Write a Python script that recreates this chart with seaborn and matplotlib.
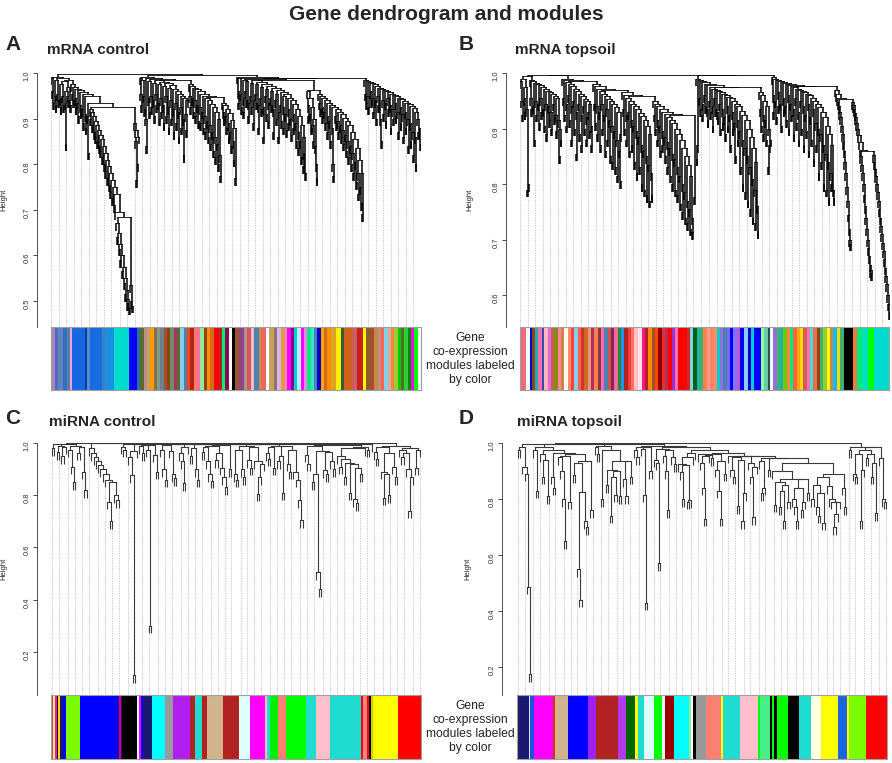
import numpy as np
import seaborn as sns
import matplotlib.pyplot as plt
from matplotlib.collections import LineCollection
from matplotlib.colors import ListedColormap

# ---- merge heights between neighbouring leaves (x1000) ----
mrna_control_gaps = [
    # left block
    990, 960, 935, 992, 950, 930, 985, 955, 940, 988, 945, 925, 975, 950, 930, 982,
    935, 845, 960, 950, 940, 970, 930, 985,
    # long chain going down to 0.48
    975, 955, 940, 970, 945, 925, 966, 935, 905, 962, 930, 915, 958, 920, 890, 954,
    910, 880, 950, 905, 825, 935,
    920, 900, 915, 885, 905, 870, 895, 860, 885, 850, 875, 840, 865, 830, 855, 815,
    840, 800, 825, 785, 810, 770, 795, 755, 780, 740, 765, 725, 750, 710, 735, 695,
    670, 640, 650, 615, 625, 590, 600, 565, 575, 540, 550, 515, 525, 495, 505, 485,
    685, 535, 500, 490, 926, 890, 875, 850, 765, 800, 860, 997,
    # second block
    990, 955, 930, 985, 950, 920, 992, 900, 840, 988, 945, 915, 982, 950, 925, 986,
    940, 905, 978, 955, 930, 984, 935, 900, 975, 945, 915, 980, 930, 890, 972, 950,
    905, 977, 925, 880, 968, 940, 900, 973, 920, 870, 965, 935, 890, 960, 915, 860,
    955, 925, 880, 950, 900, 820, 945, 910, 875, 940, 985,
    975, 950, 925, 972, 945, 915, 968, 940, 905, 965, 930, 895, 960, 925, 890, 955,
    915, 880, 950, 905, 870, 945, 895, 860, 940, 885, 845, 932, 870, 830, 925, 860,
    815, 915, 845, 800, 900, 820, 775, 947,
    935, 915, 900, 930, 905, 880, 922, 890, 860, 912, 870, 840, 898, 850, 810, 880,
    770, 996,
    # third block
    992, 960, 935, 988, 955, 925, 990, 945, 915, 985, 960, 940, 982, 935, 905, 987,
    950, 925, 978, 940, 890, 984, 955, 935, 975, 930, 880, 980, 945, 920, 970, 925,
    860, 976, 950, 910, 965, 935, 895, 972, 945, 930, 960, 920, 870, 968, 940, 900,
    955, 915, 860, 962, 930, 895, 958, 925, 880, 950, 910, 875, 954, 920, 890, 946,
    900, 865, 940, 910, 880, 932, 890, 850, 920, 870, 835, 905, 850, 815, 885, 825,
    795, 860, 780, 985,
    960, 930, 905, 945, 910, 880, 925, 885, 850, 900, 840, 800, 770, 963,
    955, 935, 920, 950, 925, 905, 945, 915, 890, 940, 905, 870, 935, 895, 850, 930,
    880, 800, 775, 925, 905, 890, 920, 895, 870, 915, 885, 860, 910, 875, 845, 902,
    865, 830, 895, 850, 815, 885, 840, 800, 870, 825, 780, 855, 805, 760, 835, 780,
    735, 810, 750, 715, 780, 690, 989,
    # right block
    985, 955, 935, 982, 950, 925, 980, 960, 940, 978, 945, 915, 975, 940, 900, 972,
    950, 930, 968, 900, 850, 965, 940, 910, 962, 935, 895, 960, 945, 920, 958, 930,
    880, 955, 920, 900, 952, 935, 905, 950, 915, 870, 946, 925, 890, 942, 910, 860,
    938, 915, 880, 935, 900, 840, 932, 890, 850, 928, 870, 820, 924, 860, 800, 915,
    900, 870, 880, 845,
]
mrna_topsoil_gaps = [
    985, 950, 925, 990, 955, 930, 975, 935, 790, 800, 995,
    988, 955, 935, 985, 940, 880, 982, 950, 925, 980, 945, 910, 978, 955, 930, 975,
    935, 905, 972, 945, 890, 968, 940, 915, 965, 930, 900, 962, 945, 920, 958, 925,
    895, 955, 915, 850, 900, 880, 996,
    990, 955, 925, 987, 945, 905, 984, 960, 915, 980, 940, 880, 976, 950, 900, 972,
    930, 855, 968, 945, 890, 962, 925, 870, 958, 940, 900, 954, 920, 880, 950, 930,
    895, 945, 905, 870, 985,
    980, 945, 910, 976, 940, 890, 972, 930, 870, 968, 945, 900, 962, 925, 860, 958,
    935, 880, 954, 915, 850, 950, 905, 840, 945, 895, 830, 938, 880, 815, 930, 860,
    805, 890, 970,
    965, 935, 900, 960, 925, 880, 955, 930, 860, 950, 915, 870, 945, 905, 840, 940,
    895, 820, 935, 885, 830, 928, 870, 800, 922, 860, 790, 915, 850, 780, 905, 835,
    770, 890, 820, 780, 958,
    950, 925, 900, 945, 915, 880, 940, 905, 860, 935, 895, 870, 930, 885, 850, 927,
    875, 830, 920, 865, 815, 915, 855, 800, 910, 845, 790, 900, 830, 780, 890, 815,
    765, 880, 800, 750, 865, 785, 740, 850, 770, 730, 835, 755, 720, 815, 740, 714,
    925, 777, 997,
    990, 846, 870, 988, 955, 935, 985, 945, 925, 983, 960, 940, 980, 935, 915, 978,
    950, 930, 975, 940, 905, 972, 955, 935, 970, 930, 920, 968, 945, 900, 965, 935,
    910, 962, 920, 890, 960, 940, 905, 957, 925, 870, 955, 930, 900, 950, 910, 850,
    945, 915, 880, 940, 895, 830, 932, 880, 800, 925, 865, 785, 915, 850, 770, 900,
    830, 755, 885, 810, 740, 865, 790, 730, 840, 760, 715, 975,
    965, 935, 905, 960, 925, 890, 950, 915, 880, 940, 900, 830, 870, 880, 996,
    993, 960, 930, 990, 950, 920, 988, 965, 940, 986, 945, 905, 984, 955, 935, 982,
    940, 915, 980, 960, 900, 978, 945, 925, 976, 935, 890, 974, 955, 910, 972, 930,
    880, 970, 950, 900, 968, 940, 870, 965, 925, 895, 962, 945, 860, 960, 920, 880,
    955, 935, 845, 950, 910, 870, 945, 900, 820, 938, 890, 840, 930, 870, 800, 920,
    855, 790, 905, 840, 775, 890, 820, 800, 870, 790, 775, 976,
    # three sparse chains on the right
    970, 962, 955, 948, 940, 930, 920, 905, 890, 875, 860, 840, 820, 795, 770, 745,
    720, 700, 693, 953,
    948, 942, 935, 928, 920, 910, 900, 888, 875, 862, 850, 835, 820, 800, 780, 760,
    740, 720, 700, 685, 670, 655, 645, 640, 860,
    852, 840, 828, 815, 800, 785, 770, 755, 740, 725, 710, 695, 680, 665, 650, 635,
    620, 600, 585, 570,
]
mirna_control_gaps = [
    980, 996, 965, 990, 950, 985, 998,
    975, 910, 850, 988, 962, 985, 890, 820, 999,
    980, 960, 945, 930, 915, 900, 880, 860, 775, 700, 850, 800, 780, 999,
    985, 975, 997,
    946, 876, 110, 970, 996,
    988, 960, 992, 975, 300, 993, 955, 890, 998,
    975, 900, 860, 992, 970, 880, 865, 995, 960, 930, 845, 985, 997,
    950, 980, 900, 860, 995, 965, 985, 930, 880, 855, 990, 935, 960, 905, 870, 830,
    993, 900, 996,
    880, 860, 975, 900, 870, 990, 935, 905, 985, 930, 805, 870, 920, 995,
    960, 940, 985, 905, 990, 930, 950, 810, 990, 920, 890, 975, 890, 860, 780, 705, 997,
    955, 920, 990, 850, 880, 505, 440, 970, 895, 880, 965, 930, 900, 992,
    950, 910, 940, 870, 925, 810, 920, 785, 770, 905, 880, 980,
    985, 975, 995, 999,
    965, 940, 985, 890, 790, 880, 800, 960, 910, 870, 990,
    975, 945, 960, 900, 740, 870, 980, 905, 975,
]
mirna_topsoil_gaps = [
    975, 985, 915, 890, 487, 175, 997,
    975, 830, 985, 960, 880, 940, 810, 975, 880, 840, 965, 950, 900, 800, 650, 955,
    790, 960, 885, 930, 550, 440, 825, 720, 700, 935, 760, 996,
    985, 960, 990, 800, 975, 850, 905, 740, 880, 815, 900, 810, 935, 870, 810, 935,
    880, 995,
    975, 950, 985, 980, 815, 430, 985, 900, 990,
    940, 930, 570, 980, 955, 900, 760, 975, 950, 925, 985,
    925, 895, 800, 920, 790, 795, 950, 965, 975,
    960, 930, 840, 730, 955, 958, 945, 962, 905, 830, 730, 935, 890, 965,
    955, 905, 880, 950, 775, 940, 720, 820, 952, 930, 880, 735, 915, 955,
    935, 820, 840, 945, 905, 945,
    900, 780, 860, 770, 830, 720, 850, 790, 870, 800, 770, 720, 840, 760, 790, 870,
    820, 930, 800, 850, 770, 740, 820, 715, 880, 845, 800, 790, 700, 745, 790, 890,
    840, 770, 999,
    975, 985, 890, 880, 960, 720, 905, 975, 945, 960, 880, 930, 750, 985, 945, 800, 790,
]

# ---- module colour strips (colour, relative width) ----
mrna_control_colors = [
    '#9a8fb0', '#6a5acd', '#3a9aaa', '#8470d0', '#2f6fbf', '#5b7fa0', '#f0a0e0', '#1a66e0',
    '#0d3da0', '#4a90d0', '#1a6ae0', '#3a80c8', '#1a90e0', '#00ddcf', '#0000ff', '#3a6a9a',
    '#556b2f', '#bc8f8f', '#c8a060', '#ff9900', '#8b6a5a', '#7aa080', '#708090', '#a0522d',
    '#8b4513', '#6b8e6b', '#b03060', '#556b2f', '#87ceeb', '#4682b4', '#ff4500', '#b22222',
    '#ff7f50', '#ff69b4', '#90ee90', '#8b4513', '#ff8c00', '#d2691e', '#ff0000', '#b22222',
    '#00ee76', '#8b0a50', '#ffffff', '#000000', '#a0522d', '#8b4789', '#bc8f8f', '#cd5c5c',
    '#ffb6c1', '#4682b4', '#cd853f', '#ee6363', '#ffffff', '#c8a060', '#8b795e', '#e0b0ff',
    '#daa520', '#ff82ab', '#ff00ff', '#8b008b', '#00ced1', '#bfefff', '#ff00ff', '#ee82ee',
    '#00ee76', '#40e0d0', '#4682b4', '#0000cd', '#ffa500', '#d2691e', '#ff8c00', '#daa520',
    '#ffee00', '#2e5e2e', '#d2601e', '#cd5c5c', '#c81e1e', '#ffff00', '#8b5a2b', '#a0522d',
    '#cd853f', '#bc8f8f', '#ff6347', '#87ceeb', '#d2b48c', '#ff7f50', '#9acd32', '#00cd00',
    '#556b2f', '#32cd32', '#008b00', '#ff00ff', '#00ff00', '#f0fff0',
]
mrna_control_widths = [
    12, 10, 7, 8, 10, 10, 7, 38, 5, 10, 35, 10, 27, 43, 25, 10,
    10, 10, 10, 10, 10, 10, 10, 10, 10, 10, 10, 10, 10, 10, 10, 10,
    10, 10, 10, 10, 10, 10, 15, 10, 10, 10, 10, 10, 10, 15, 10, 10,
    10, 15, 10, 10, 10, 15, 10, 10, 10, 10, 10, 10, 10, 10, 10, 10,
    10, 10, 10, 10, 10, 10, 10, 15, 15, 10, 25, 15, 15, 10, 10, 15,
    10, 10, 10, 10, 10, 10, 10, 10, 10, 10, 10, 10, 10, 10,
]
mrna_topsoil_colors = [
    '#d87090', '#ff6a6a', '#f0f8ff', '#0000cd', '#8b4513', '#20b2aa', '#ff69b4', '#2f4f9f',
    '#ffb6c1', '#da70d6', '#cd5c5c', '#8b8b00', '#ff82ab', '#cd853f', '#fffaf0', '#ff8c69',
    '#ff4040', '#87ceeb', '#ff6347', '#cd3333', '#d2691e', '#e9967a', '#b03060', '#ff7f50',
    '#8b3a3a', '#ff69b4', '#4682b4', '#cd5555', '#8b2252', '#ee6aa7', '#228b22', '#1e90ff',
    '#b22222', '#ee3b3b', '#ff7256', '#ffc0cb', '#ffe4e1', '#ff1493', '#b22222', '#ff8c00',
    '#a0522d', '#ff4500', '#8b0000', '#ee2c2c', '#b03060', '#ff0000', '#9932cc', '#ff6eb4',
    '#ff0000', '#cd2626', '#87ceeb', '#006400', '#20b2aa', '#3cb371', '#ff7f50', '#ffa07a',
    '#fa8072', '#ff8c69', '#00ced1', '#9370db', '#4682b4', '#7b68ee', '#0000ff', '#8470ff',
    '#ba55d3', '#0000ee', '#87cefa', '#0000cd', '#00ced1', '#0000ff', '#98fb98', '#66cdaa',
    '#2f4f4f', '#f0fff0', '#9370db', '#3cb371', '#20b2aa', '#66cd00', '#ff7f50', '#00ee76',
    '#ff6347', '#ffa500', '#ffd700', '#cd5c5c', '#ff6eb4', '#40e0d0', '#ee6a50', '#8b4513',
    '#3cb371', '#9acd32', '#ffff00', '#cd853f', '#00bfff', '#ffd700', '#3cb371', '#000000',
    '#ee7942', '#00ee76', '#00e0c0', '#00ff00', '#00ddd0',
]
mrna_topsoil_widths = [
    10, 7, 13, 5, 10, 10, 10, 8, 10, 10, 10, 10, 10, 10, 10, 10,
    10, 10, 10, 10, 10, 10, 10, 10, 10, 10, 10, 10, 10, 10, 10, 10,
    10, 10, 10, 10, 12, 10, 10, 10, 10, 10, 10, 10, 10, 10, 10, 10,
    25, 10, 10, 10, 10, 10, 10, 10, 10, 10, 10, 10, 10, 10, 10, 10,
    10, 13, 10, 10, 10, 20, 10, 10, 7, 10, 10, 10, 10, 10, 10, 10,
    10, 10, 10, 10, 10, 10, 10, 10, 10, 10, 10, 10, 10, 10, 13, 27,
    10, 15, 18, 20, 44,
]
mirna_control_colors = [
    '#b23aee', '#ffff00', '#ff00ff', '#000000', '#ffd700', '#191970', '#0000ff', '#7cfc00',
    '#0000ff', '#ff0000', '#0000ff', '#000000', '#e0ffff', '#ff00ff', '#0000ff', '#191970',
    '#00ffff', '#999999', '#b01ef0', '#b22222', '#1fdcd0', '#b22222', '#d2b48c', '#b22222',
    '#e0ffff', '#ff00ff', '#ffb6c1', '#1fdcd0', '#00ee00', '#fa8072', '#00ff00', '#1fdcd0',
    '#ffc0cb', '#1fdcd0', '#ff0000', '#ff8080', '#ff0000', '#000000', '#cdcd00', '#ffff00',
    '#ff0000',
]
mirna_control_widths = [
    5, 7, 5, 5, 6, 7, 10, 42, 118, 5, 5, 45, 5, 5, 8, 27,
    37, 26, 50, 14, 23, 15, 48, 47, 33, 47, 5, 10, 22, 26, 60, 30,
    40, 95, 7, 10, 8, 5, 5, 77, 68,
]
mirna_topsoil_colors = [
    '#191970', '#e0e0ff', '#1e50e0', '#ff00ff', '#cd3700', '#d2b48c', '#0000ff', '#a020f0',
    '#b22222', '#b23aee', '#006400', '#ffff00', '#1fdcd0', '#e0ffff', '#00ff00', '#f0f0f0',
    '#990000', '#00ffff', '#90ee90', '#ffffff', '#000000', '#999999', '#fa8072', '#ffff00',
    '#1fdcd0', '#ffc0cb', '#00ff00', '#44ee88', '#000000', '#00ff00', '#000000', '#00ff00',
    '#000000', '#1fdcd0', '#ffffe0', '#ffff00', '#1e64e0', '#ffff00', '#7cfc00', '#ff0000',
]
mirna_topsoil_widths = [
    35, 5, 12, 56, 7, 37, 60, 26, 64, 26, 27, 7, 20, 30, 23, 10,
    27, 43, 7, 6, 10, 30, 44, 6, 50, 54, 6, 32, 6, 6, 8, 32,
    33, 37, 30, 50, 28, 6, 52, 62,
]

W, H = 892, 763

sns.set_theme(style="white")
plt.rcParams['font.family'] = ['Liberation Sans', 'DejaVu Sans']


def rect(x0, y0, x1, y1):
    return [x0 / W, 1 - y1 / H, (x1 - x0) / W, (y1 - y0) / H]


def dendro(gaps, hang):
    g = np.asarray(gaps) / 1000
    n = len(g) + 1
    vsegs, hsegs = [], []
    bottoms = np.zeros(n)

    def build(lo, hi):
        if lo == hi:
            return lo + 1.0, None
        k = lo + int(np.argmax(g[lo:hi]))
        h = g[k]
        xl, hl = build(lo, k)
        xr, hr = build(k + 1, hi)
        for x, hc, idx in ((xl, hl, lo), (xr, hr, k + 1)):
            if hc is None:
                hc = h - hang
                bottoms[idx] = hc
            vsegs.append([(x, h), (x, hc)])
        hsegs.append([(xl, h), (xr, h)])
        return (xl + xr) / 2, h

    build(0, n - 1)
    return vsegs, hsegs, bottoms, n


def color_bar(ax, colors, widths):
    uniq = list(dict.fromkeys(colors))
    codes = np.repeat([uniq.index(c) for c in colors], widths)[None, :]
    sns.heatmap(codes, ax=ax, cmap=ListedColormap(uniq), vmin=-0.5,
                vmax=len(uniq) - 0.5, cbar=False, xticklabels=False,
                yticklabels=False)
    for s in ax.spines.values():
        s.set_visible(True)
        s.set_color('#a0a0a0')
        s.set_linewidth(0.8)


panels = [
    dict(letter='A', title='mRNA control', gaps=mrna_control_gaps, ylim=(0.443, 1.0),
         ticks=np.arange(0.5, 1.01, 0.1), box=(51, 73, 421, 327), bar=(51, 327, 421, 390),
         colors=mrna_control_colors, widths=mrna_control_widths, lc='black',
         vlw=1.1, hlw=0.6, hang=0.03, off=10.1, ylab_x=7, letter_xy=(5, 44),
         title_xy=(47, 50)),
    dict(letter='B', title='mRNA topsoil', gaps=mrna_topsoil_gaps, ylim=(0.543, 1.0),
         ticks=np.arange(0.6, 1.01, 0.1), box=(520, 73, 890, 327), bar=(520, 327, 889, 390),
         colors=mrna_topsoil_colors, widths=mrna_topsoil_widths, lc='black',
         vlw=1.1, hlw=0.6, hang=0.03, off=10.1, ylab_x=473, letter_xy=(459, 44),
         title_xy=(515, 50)),
    dict(letter='C', title='miRNA control', gaps=mirna_control_gaps, ylim=(0.035, 1.0),
         ticks=np.arange(0.2, 1.01, 0.2), box=(51, 443, 421, 695), bar=(51, 695, 421, 759),
         colors=mirna_control_colors, widths=mirna_control_widths, lc='#3a3a3a',
         vlw=0.8, hlw=0.8, hang=0.03, off=10.1, ylab_x=7, letter_xy=(5, 418),
         title_xy=(49, 422)),
    dict(letter='D', title='miRNA topsoil', gaps=mirna_topsoil_gaps, ylim=(0.10, 1.0),
         ticks=np.arange(0.2, 1.01, 0.2), box=(517, 443, 887, 695), bar=(517, 695, 887, 759),
         colors=mirna_topsoil_colors, widths=mirna_topsoil_widths, lc='#3a3a3a',
         vlw=0.8, hlw=0.8, hang=0.03, off=10.8, ylab_x=471, letter_xy=(459, 418),
         title_xy=(517, 422)),
]

fig = plt.figure(figsize=(W / 100, H / 100), dpi=100)

for p in panels:
    x0, y0, x1, y1 = p['box']
    ax = fig.add_axes(rect(x0, y0, x1, y1))
    lo, hi = p['ylim']
    hang = p['hang'] * (hi - lo)
    vsegs, hsegs, bottoms, n = dendro(p['gaps'], hang)

    # guide lines down to the colour strip
    idx = np.round(np.linspace(0, n - 1, 50)).astype(int)
    ax.vlines(idx + 1, lo, bottoms[idx], colors='#bdbdbd', linestyles=(0, (1, 1)),
              linewidth=0.6, zorder=1)
    ax.add_collection(LineCollection(vsegs, colors=p['lc'], linewidths=p['vlw'],
                                     zorder=2, capstyle='butt'))
    ax.add_collection(LineCollection(hsegs, colors=p['lc'], linewidths=p['hlw'],
                                     zorder=2, capstyle='projecting'))
    ax.set_xlim(0.5, n + 0.5)
    ax.set_ylim(lo, hi)
    ax.set_xticks([])
    ax.set_yticks(p['ticks'])
    ax.set_yticklabels([f'{t:.1f}' for t in p['ticks']])
    ax.tick_params(axis='y', labelsize=5.5, length=3, width=0.6, pad=1.5,
                   labelrotation=90, left=True, colors='#333333')
    for lab in ax.get_yticklabels():
        lab.set_va('center')
    sns.despine(ax=ax, bottom=True, offset={'left': p['off']})
    ax.spines['left'].set_linewidth(0.6)
    ax.spines['left'].set_color('#333333')
    ax.set_facecolor('none')
    ax.set_ylabel('Height', fontsize=5.5)
    ax.yaxis.set_label_coords((p['ylab_x'] - x0) / (x1 - x0), 0.5)

    bx0, by0, bx1, by1 = p['bar']
    bax = fig.add_axes(rect(bx0, by0, bx1, by1))
    color_bar(bax, p['colors'], p['widths'])

    lx, ly = p['letter_xy']
    fig.text(lx / W, 1 - ly / H, p['letter'], fontsize=15, fontweight='bold',
             ha='left', va='center')
    tx, ty = p['title_xy']
    fig.text(tx / W, 1 - ty / H, p['title'], fontsize=11, fontweight='bold',
             ha='left', va='center')

for yc in (359, 727):
    fig.text(470 / W, 1 - yc / H, 'Gene\nco-expression\nmodules labeled\nby color',
             fontsize=8.7, ha='center', va='center', linespacing=1.25)

fig.text(446 / W, 1 - 15 / H, 'Gene dendrogram and modules', fontsize=15,
         fontweight='bold', ha='center', va='center')

fig.savefig('out.png', dpi=100)
